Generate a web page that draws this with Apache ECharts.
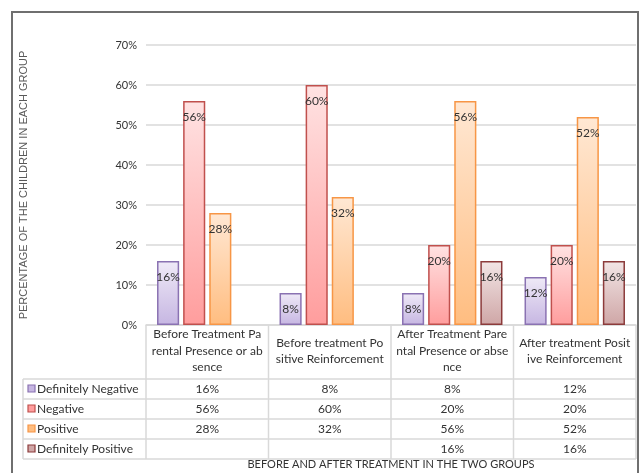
<!DOCTYPE html>
<html>
<head>
<meta charset="utf-8">
<script src="https://cdn.jsdelivr.net/npm/echarts@6/dist/echarts.min.js"></script>
<style>
  html, body { margin: 0; padding: 0; background: #fff; }
  #chart { width: 644px; height: 473px; }
</style>
</head>
<body>
<div id="chart"></div>
<script>
// Category headers, wrapped the way the table in the picture wraps them.
var categories = [
  "Before Treatment Pa\nrental Presence or ab\nsence",
  "Before treatment Po\nsitive Reinforcement",
  "After Treatment Pare\nntal Presence or abse\nnce",
  "After treatment Posit\nive Reinforcement"
];
var seriesNames = ["Definitely Negative", "Negative", "Positive", "Definitely Positive"];

// Percent of children per group.
var definitelyNegative = [16, 8, 8, 12];
var negative = [56, 60, 20, 20];
var positive = [28, 32, 56, 52];
var definitelyPositive = [null, null, 16, 16];

var yMin = 0, yMax = 70, yStep = 10;

var seriesData = [definitelyNegative, negative, positive, definitelyPositive];

// Excel-ish fills: light at the top, stronger at the bottom, darker border.
var palette = [
  { top: "#efeaf7", bottom: "#c6b6e2", border: "#8a72b2" },
  { top: "#ffe3e3", bottom: "#ff9d9d", border: "#c0504d" },
  { top: "#ffe8d4", bottom: "#ffbd80", border: "#f79646" },
  { top: "#f2e6e6", bottom: "#cfa6a6", border: "#8c3b3b" }
];

var FONT = "Lato, 'Open Sans', sans-serif";
var TEXT = "#333333";
var LINE = "#d9d9d9";

function pct(v) {
  return v == null ? "" : v + "%";
}

var chart = echarts.init(document.getElementById("chart"));

var option = {
  animation: false,
  textStyle: { fontFamily: FONT },
  grid: { left: 146, right: 8, top: 45, bottom: 148, containLabel: false, outerBoundsMode: "none" },
  xAxis: {
    type: "category",
    data: categories,
    name: "BEFORE AND AFTER TREATMENT IN THE TWO GROUPS",
    nameLocation: "middle",
    nameGap: 134,
    nameTextStyle: { fontFamily: FONT, fontSize: 11, color: TEXT },
    axisLine: { lineStyle: { color: LINE, width: 1.5 } },
    axisTick: { show: false },
    axisLabel: {
      interval: 0,
      margin: 26,
      verticalAlign: "middle",
      lineHeight: 16.5,
      fontFamily: FONT,
      fontSize: 12,
      color: TEXT
    }
  },
  yAxis: {
    type: "value",
    min: yMin,
    max: yMax,
    interval: yStep,
    name: "PERCENTAGE OF THE CHILDREN IN EACH GROUP",
    nameLocation: "middle",
    nameRotate: 90,
    nameGap: 117,
    nameTextStyle: { fontFamily: "'Liberation Sans', Arial, sans-serif", fontSize: 11, color: "#595959" },
    axisLine: { show: false },
    axisTick: { show: false },
    axisLabel: { formatter: "{value}%", margin: 9, fontFamily: FONT, fontSize: 11, color: TEXT },
    splitLine: { lineStyle: { color: LINE, width: 1.5 } }
  },
  series: seriesNames.map(function (name, i) {
    return {
      name: name,
      type: "bar",
      data: seriesData[i],
      barCategoryGap: "18%",
      barGap: "18%",
      itemStyle: {
        color: new echarts.graphic.LinearGradient(0, 0, 0, 1, [
          { offset: 0, color: palette[i].top },
          { offset: 1, color: palette[i].bottom }
        ]),
        borderColor: palette[i].border,
        borderWidth: 1.5
      },
      label: {
        show: true,
        position: "insideTop",
        distance: 10,
        formatter: function (p) { return pct(p.value); },
        fontFamily: FONT,
        fontSize: 12,
        color: TEXT
      }
    };
  })
};

chart.setOption(option);

// Data table under the plot, laid out from the axis positions.
function buildTable() {
  var n = categories.length;
  var c0 = chart.convertToPixel({ xAxisIndex: 0 }, 0);
  var c1 = chart.convertToPixel({ xAxisIndex: 0 }, 1);
  var colW = c1 - c0;
  var plotLeft = c0 - colW / 2;
  var plotRight = plotLeft + colW * n;
  var top = chart.convertToPixel({ yAxisIndex: 0 }, yMin);
  var headerBottom = top + 54;
  var rowH = 20;
  var tableLeft = 23;
  var tableBottom = headerBottom + rowH * seriesNames.length;

  var els = [];
  function line(x1, y1, x2, y2, color, w) {
    els.push({
      type: "line",
      shape: { x1: x1, y1: y1, x2: x2, y2: y2 },
      style: { stroke: color || LINE, lineWidth: w || 1.5 },
      silent: true
    });
  }

  for (var r = 0; r <= seriesNames.length; r++) {
    var y = headerBottom + r * rowH;
    line(tableLeft, y, plotRight, y);
  }
  for (var c = 0; c <= n; c++) {
    var x = plotLeft + c * colW;
    line(x, top, x, tableBottom);
  }
  line(tableLeft, headerBottom, tableLeft, tableBottom);

  seriesNames.forEach(function (name, i) {
    var cy = headerBottom + i * rowH + rowH / 2;
    els.push({
      type: "rect",
      shape: { x: 28, y: cy - 4, width: 7, height: 7 },
      style: { fill: palette[i].bottom, stroke: palette[i].border, lineWidth: 1.2 },
      silent: true
    });
    els.push({
      type: "text",
      x: 37, y: cy,
      style: {
        text: name, fontFamily: FONT, fontSize: 12, fill: TEXT,
        align: "left", verticalAlign: "middle"
      },
      silent: true
    });
    seriesData[i].forEach(function (v, j) {
      els.push({
        type: "text",
        x: plotLeft + (j + 0.5) * colW, y: cy,
        style: {
          text: pct(v), fontFamily: FONT, fontSize: 12, fill: TEXT,
          align: "center", verticalAlign: "middle"
        },
        silent: true
      });
    });
  });

  // outer frame of the chart object
  els.push({
    type: "polyline",
    shape: { points: [[12, 473], [12, 12], [638, 12], [638, 473]] },
    style: { stroke: "#6f6f6f", lineWidth: 2, fill: null },
    silent: true
  });

  chart.setOption({ graphic: { elements: els } });
}

buildTable();
</script>
</body>
</html>
